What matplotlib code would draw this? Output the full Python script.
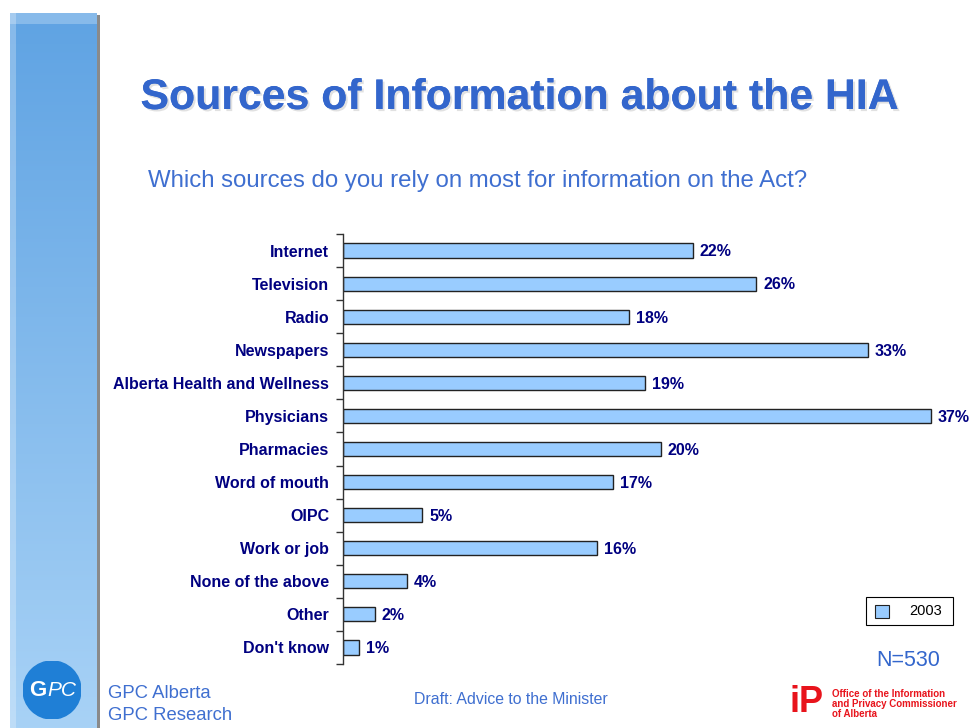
import matplotlib.pyplot as plt
import matplotlib.patheffects as pe
import numpy as np
from matplotlib.patches import Rectangle, Ellipse

# survey results, 2003
categories = ["Internet", "Television", "Radio", "Newspapers",
              "Alberta Health and Wellness", "Physicians", "Pharmacies",
              "Word of mouth", "OIPC", "Work or job", "None of the above",
              "Other", "Don't know"]
values = [22, 26, 18, 33, 19, 37, 20, 17, 5, 16, 4, 2, 1]
series_name = "2003"

W, H = 969, 728
title_blue = "#3366cc"
navy = "#000080"
bar_fill = "#99ccff"

plt.rcParams['font.family'] = ['Liberation Sans', 'DejaVu Sans']

fig = plt.figure(figsize=(W / 100, H / 100), dpi=100)
fig.patch.set_facecolor("white")

# left side panel with vertical gradient
panel = fig.add_axes([10 / W, 0, 87 / W, 1 - 13 / H])
grad = np.linspace(0, 1, 256).reshape(-1, 1)
top = np.array([0x5f, 0xa3, 0xe3]) / 255
bot = np.array([0xa8, 0xd2, 0xf6]) / 255
img = top + (bot - top) * grad[:, :, None]
img = np.repeat(img, 40, axis=1)
panel.imshow(img, aspect="auto", extent=[0, 1, 0, 1])
# lighter bevel on the edges
panel.add_patch(Rectangle((0, 0), 0.07, 1, color="white", alpha=0.25, lw=0))
panel.add_patch(Rectangle((0, 0.985), 1, 0.015, color="white", alpha=0.25, lw=0))
panel.set_xlim(0, 1)
panel.set_ylim(0, 1)
panel.axis("off")
shadow = fig.add_axes([97 / W, 0, 3 / W, 1 - 15 / H])
shadow.set_facecolor("#8a8a8a")
shadow.set_xticks([])
shadow.set_yticks([])
for s in shadow.spines.values():
    s.set_visible(False)

# title with a light drop shadow
fig.text(519 / W, 1 - 98 / H, "Sources of Information about the HIA",
         ha="center", va="center", fontsize=30.8, fontweight="bold", color=title_blue,
         path_effects=[pe.withSimplePatchShadow(offset=(1.5, -1.5), shadow_rgbFace="#aaaaaa", alpha=0.35),
                       pe.Normal()])
fig.text(148 / W, 1 - 181 / H, "Which sources do you rely on most for information on the Act?",
         ha="left", va="center", fontsize=17.3, color="#3f6fd0")

# bar chart
ax = fig.add_axes([343 / W, 1 - 664 / H, 620 / W, 430 / H])
y = np.arange(len(categories))
ax.barh(y, values, height=0.43, color=bar_fill, edgecolor="#222222", linewidth=1)
for yi, v in zip(y, values):
    ax.text(v + 0.42, yi + 0.04, f"{v}%", va="center", ha="left", fontsize=11.5,
            fontweight="bold", color=navy)
ax.set_xlim(0, 39)
ax.set_ylim(len(categories) - 0.5, -0.5)
ax.set_yticks(y)
ax.set_yticklabels(categories, fontsize=11.5, fontweight="bold", color=navy)
ax.set_yticks(np.arange(len(categories) + 1) - 0.5, minor=True)
ax.tick_params(axis="y", which="major", length=0, pad=10)
ax.tick_params(axis="y", which="minor", length=5, width=1, color="#333333")
ax.set_xticks([])
for side in ["top", "right", "bottom"]:
    ax.spines[side].set_visible(False)
ax.spines["left"].set_color("#333333")
ax.spines["left"].set_linewidth(1)
ax.patch.set_alpha(0)

# legend box
fig.add_artist(Rectangle((866 / W, 1 - 625 / H), 87 / W, 28 / H, transform=fig.transFigure,
                         facecolor="white", edgecolor="black", lw=0.8))
fig.add_artist(Rectangle((875 / W, 1 - 618 / H), 14 / W, 13 / H, transform=fig.transFigure,
                         facecolor=bar_fill, edgecolor="#222222", lw=0.8))
fig.text(909 / W, 1 - 611 / H, series_name, ha="left", va="center", fontsize=10.5, color="black")

fig.text(908 / W, 1 - 660 / H, "N=530", ha="center", va="center", fontsize=15.5, color=title_blue)

# GPC logo and footer
logo = fig.add_axes([23 / W, 1 - 719 / H, 58 / W, 58 / H])
logo.set_xlim(0, 1)
logo.set_ylim(0, 1)
logo.axis("off")
logo.add_patch(Ellipse((0.5, 0.5), 1.0, 1.0, color="#1f7fd6"))
logo.text(0.40, 0.5, "G", ha="right", va="center", fontsize=16, fontweight="bold",
          color="white")
logo.text(0.42, 0.5, "PC", ha="left", va="center", fontsize=15,
          style="italic", color="white")
fig.text(108 / W, 1 - 694 / H, "GPC Alberta", ha="left", va="center", fontsize=13.3, color="#3f6fd0")
fig.text(108 / W, 1 - 716 / H, "GPC Research", ha="left", va="center", fontsize=13.3, color="#3f6fd0")
fig.text(511 / W, 1 - 700 / H, "Draft: Advice to the Minister", ha="center", va="center",
         fontsize=11.4, color="#3f6fd0")

# OIPC logo
fig.text(790 / W, 1 - 702 / H, "iP", ha="left", va="center", fontsize=26, fontweight="bold",
         color="#e8141c")
for i, line in enumerate(["Office of the Information", "and Privacy Commissioner", "of Alberta"]):
    fig.text(832 / W, 1 - (694 + i * 10) / H, line, ha="left", va="center", fontsize=7,
             fontweight="bold", color="#e8141c")

fig.savefig("out.png", dpi=100)
